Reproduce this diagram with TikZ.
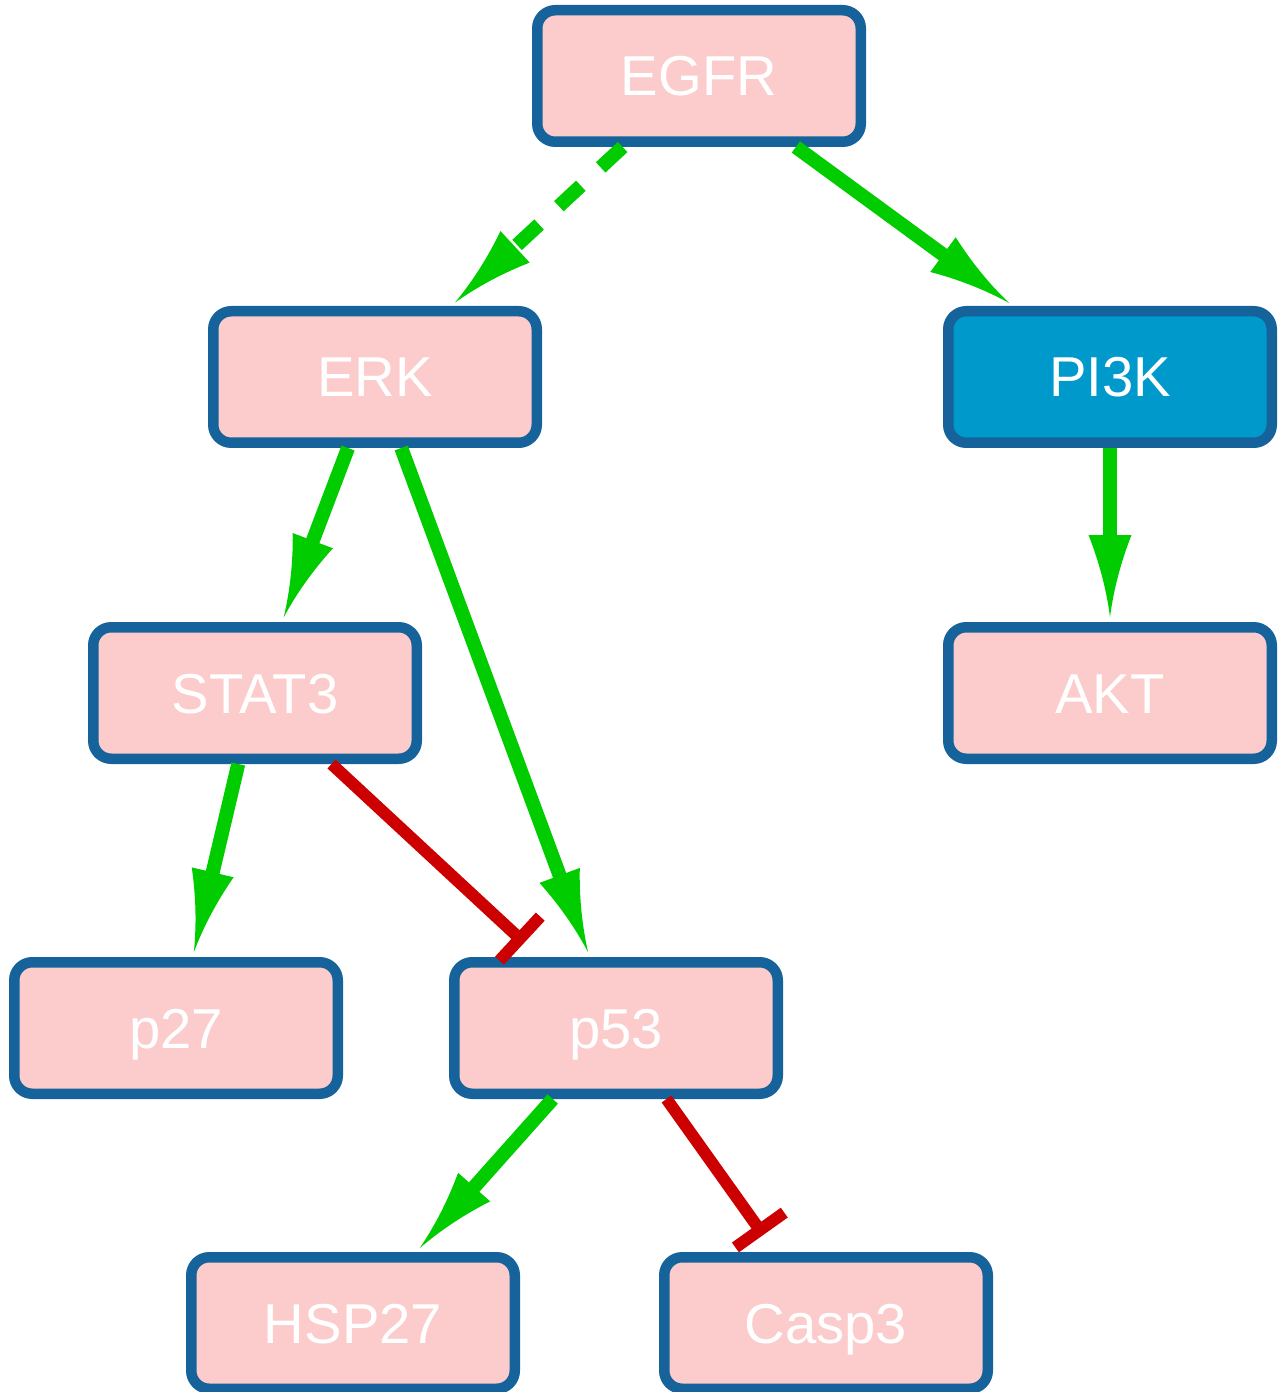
\documentclass[tikz,border=0pt]{standalone}
\usepackage{fontspec}
\setmainfont{Liberation Sans}
\usetikzlibrary{arrows.meta}

\definecolor{genefill}{HTML}{FCCCCC}
\definecolor{geneborder}{HTML}{15639A}
\definecolor{kinasefill}{HTML}{0099CC}
\definecolor{actgreen}{HTML}{00CC00}
\definecolor{inhred}{HTML}{CC0000}

% arrow head with concave sides
\pgfdeclarearrow{
  name = Spike,
  parameters = {\the\pgfarrowlength,\the\pgfarrowwidth},
  setup code = {
    \pgfarrowssettipend{0pt}
    \pgfarrowssetlineend{-0.8\pgfarrowlength}
    \pgfarrowssetbackend{-\pgfarrowlength}
    \pgfarrowssavethe\pgfarrowlength
    \pgfarrowssavethe\pgfarrowwidth
  },
  drawing code = {
    \pgfpathmoveto{\pgfpoint{-\pgfarrowlength}{0.5\pgfarrowwidth}}
    \pgfpathquadraticcurveto{\pgfpoint{-0.5\pgfarrowlength}{0.125\pgfarrowwidth}}{\pgfpoint{0pt}{0pt}}
    \pgfpathquadraticcurveto{\pgfpoint{-0.5\pgfarrowlength}{-0.125\pgfarrowwidth}}{\pgfpoint{-\pgfarrowlength}{-0.5\pgfarrowwidth}}
    \pgfpathclose
    \pgfusepathqfill
  },
  defaults = {length = 1.64cm, width = 0.86cm}
}

\begin{document}
\begin{tikzpicture}[>=Spike,
    gene/.style={draw=geneborder, fill=genefill, line width=0.21cm, rounded corners=0.36cm,
      minimum width=6.47cm, minimum height=2.63cm, text=white, text height=0.8cm, text depth=0cm,
      font=\fontsize{32}{38}\selectfont},
    act/.style={->, actgreen, line width=0.28cm, shorten >=0.1cm},
    inh/.style={-{Bar[width=1.2cm]}, inhred, line width=0.24cm, shorten >=0.42cm}]
    \useasboundingbox (0,0) rectangle (25.66,-27.84);

    % Nodes
    \node (EGFR) [gene] at (13.98,-1.52) {EGFR};
    \node (ERK) [gene] at (7.50,-7.54) {ERK};
    \node (PI3K) [gene, fill=kinasefill] at (22.20,-7.54) {PI3K};
    \node (STAT3) [gene] at (5.10,-13.86) {STAT3};
    \node (AKT) [gene] at (22.20,-13.86) {AKT};
    \node (p27) [gene] at (3.52,-20.56) {p27};
    \node (p53) [gene] at (12.32,-20.56) {p53};
    \node (HSP27) [gene] at (7.06,-26.46) {HSP27};
    \node (Casp3) [gene] at (16.52,-26.46) {Casp3};

    % Activations
    \draw[act, dash pattern=on 0.6cm off 0.54cm] (EGFR) -- (ERK);
    \draw[act] (EGFR) -- (PI3K);
    \draw[act] (PI3K) -- (AKT);
    \draw[act] (ERK) -- (STAT3);
    \draw[act] (ERK) -- (p53);
    \draw[act] (STAT3) -- (p27);
    \draw[act] (p53) -- (HSP27);

    % Inhibitions
    \draw[inh] (STAT3) -- (p53);
    \draw[inh] (p53) -- (Casp3);

\end{tikzpicture}
\end{document}
